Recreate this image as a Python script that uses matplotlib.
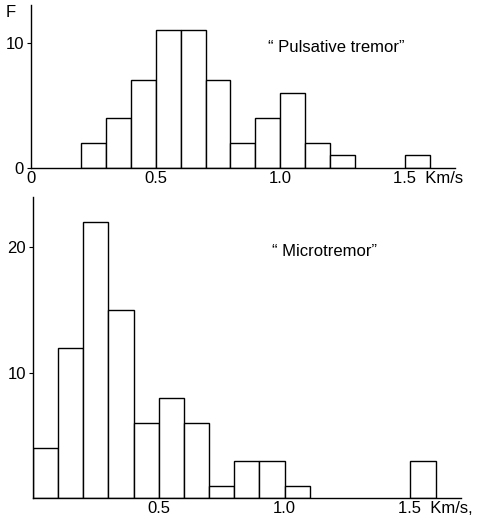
import matplotlib
matplotlib.use("Agg")
import matplotlib.pyplot as plt
import matplotlib.transforms as mtransforms

plt.rcParams['font.family'] = ['Liberation Sans Narrow', 'Liberation Sans', 'DejaVu Sans']

# bin edges (Km/s) and counts
bin_left = [0.0, 0.1, 0.2, 0.3, 0.4, 0.5, 0.6, 0.7, 0.8, 0.9, 1.0, 1.1, 1.2, 1.3, 1.4, 1.5]
pulsative_counts = [0, 0, 2, 4, 7, 11, 11, 7, 2, 4, 6, 2, 1, 0, 0, 1]
micro_counts = [4, 12, 22, 15, 6, 8, 6, 1, 3, 3, 1, 0, 0, 0, 0, 3]
bin_width = 0.1

top_xticks = [0, 0.5, 1.0, 1.5]
top_xlabels = ["0", "0.5", "1.0", "1.5  Km/s"]
top_yticks = [0, 10]
bot_xticks = [0.5, 1.0, 1.5]
bot_xlabels = ["0.5", "1.0", "1.5  Km/s,"]
bot_yticks = [10, 20]

fig = plt.figure(figsize=(4.83, 5.2), dpi=100)
ax1 = fig.add_axes([0.064, 0.677, 0.878, 0.313])
ax2 = fig.add_axes([0.068, 0.042, 0.886, 0.579])

def style(ax):
    for s in ['top', 'right']:
        ax.spines[s].set_visible(False)
    for s in ['left', 'bottom']:
        ax.spines[s].set_linewidth(1.0)
    ax.tick_params(axis='both', labelsize=12, length=3, width=0.8, pad=2)

def draw(ax, counts):
    lefts = [l for l, c in zip(bin_left, counts) if c > 0]
    hs = [c for c in counts if c > 0]
    ax.bar(lefts, hs, width=bin_width, align='edge', facecolor='white',
           edgecolor='black', linewidth=1.0)

draw(ax1, pulsative_counts)
style(ax1)
ax1.set_xlim(0, 1.7)
ax1.set_ylim(0, 13)
ax1.set_xticks(top_xticks)
ax1.set_xticklabels(top_xlabels)
ax1.set_yticks(top_yticks)
ax1.tick_params(axis='x', length=0)
ax1.text(-0.035, 1.0, "F", transform=ax1.transAxes, fontsize=12, ha='right', va='top')
ax1.text(0.56, 0.74, "\u201c Pulsative tremor\u201d", transform=ax1.transAxes,
         fontsize=12, ha='left', va='center')

draw(ax2, micro_counts)
style(ax2)
ax2.set_xlim(0, 1.7)
ax2.set_ylim(0, 24)
ax2.set_xticks(bot_xticks)
ax2.set_xticklabels(bot_xlabels)
ax2.set_yticks(bot_yticks)
ax2.tick_params(axis='x', length=0)
ax2.text(0.56, 0.82, "\u201c Microtremor\u201d", transform=ax2.transAxes,
         fontsize=12, ha='left', va='center')

# shift last label so "1.5" sits at 1.5
for ax in (ax1, ax2):
    lbl = ax.get_xticklabels()[-1]
    lbl.set_horizontalalignment('left')
    off = mtransforms.ScaledTranslation(-9/72, 0, fig.dpi_scale_trans)
    lbl.set_transform(lbl.get_transform() + off)

fig.savefig("out.png", dpi=100)
